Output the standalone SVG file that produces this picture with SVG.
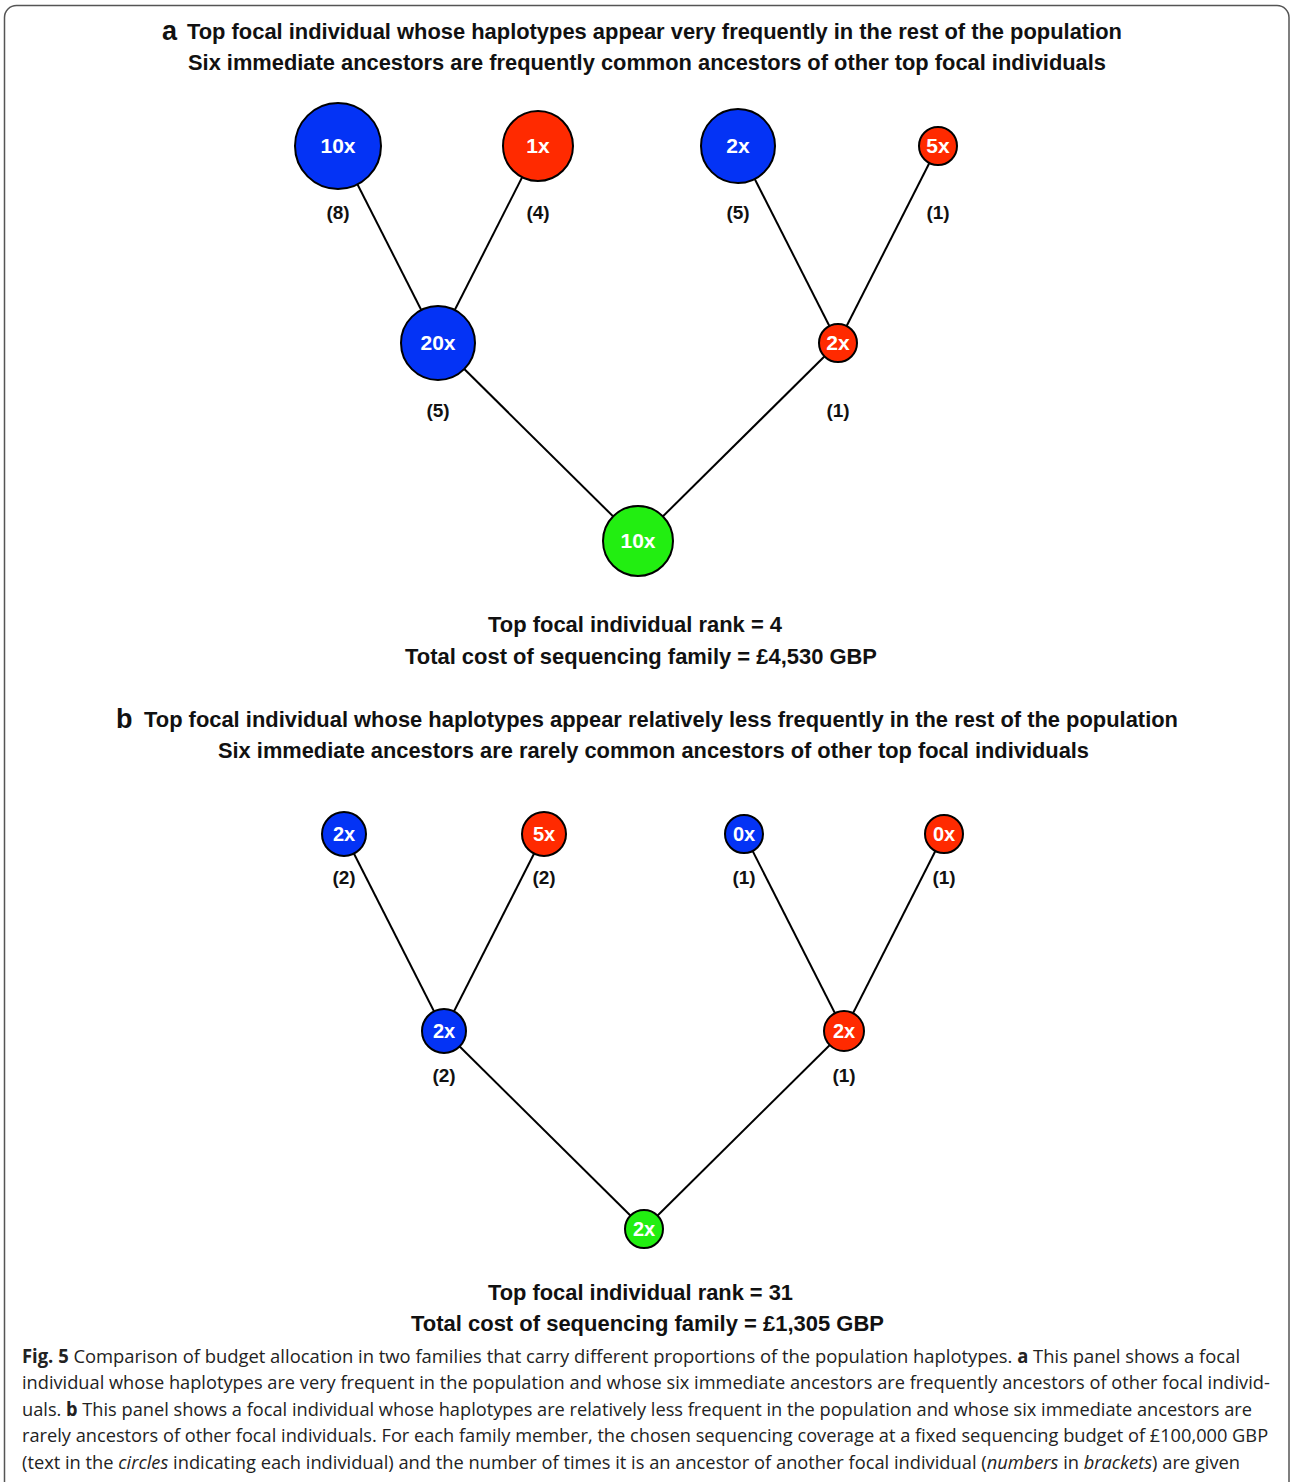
<svg xmlns="http://www.w3.org/2000/svg" width="1290" height="1482" viewBox="0 0 1290 1482">
<style>
.t{font-family:"Liberation Sans",Arial,sans-serif;font-weight:bold;font-size:21.5px;fill:#111}
.pl{font-family:"Liberation Sans",Arial,sans-serif;font-weight:bold;font-size:27px;fill:#111}
.n{font-family:"Liberation Sans",Arial,sans-serif;font-weight:bold;font-size:21px;fill:#fff;text-anchor:middle}
.ns{font-family:"Liberation Sans",Arial,sans-serif;font-weight:bold;font-size:20px;fill:#fff;text-anchor:middle}
.lb{font-family:"Liberation Sans",Arial,sans-serif;font-weight:bold;font-size:19px;fill:#111;text-anchor:middle}
.blue{fill:#0433f5;stroke:#000;stroke-width:2}
.red{fill:#ff2a00;stroke:#000;stroke-width:2}
.green{fill:#22ee11;stroke:#000;stroke-width:2}
.e{stroke:#000;stroke-width:2;fill:none}
.c{font-family:"Open Sans","Noto Sans",sans-serif;font-size:19px;fill:#222}
</style>
<rect width="1290" height="1482" fill="#fff"/>
<path d="M4.5 1490 V17.5 A12 12 0 0 1 16.5 5.5 H1277 A12 12 0 0 1 1289 17.5 V1490" fill="none" stroke="#555" stroke-width="1.5"/>

<text class="pl" x="162" y="40">a</text>
<text class="t" x="187" y="39" textLength="935" lengthAdjust="spacingAndGlyphs">Top focal individual whose haplotypes appear very frequently in the rest of the population</text>
<text class="t" x="188" y="70" textLength="918" lengthAdjust="spacingAndGlyphs">Six immediate ancestors are frequently common ancestors of other top focal individuals</text>

<g id="connectors">
<line class="e" x1="338" y1="146" x2="438" y2="343"/>
<line class="e" x1="538" y1="146" x2="438" y2="343"/>
<line class="e" x1="738" y1="146" x2="838" y2="343"/>
<line class="e" x1="938" y1="146" x2="838" y2="343"/>
<line class="e" x1="438" y1="343" x2="638" y2="541"/>
<line class="e" x1="838" y1="343" x2="638" y2="541"/>
<line class="e" x1="344" y1="834" x2="444" y2="1031"/>
<line class="e" x1="544" y1="834" x2="444" y2="1031"/>
<line class="e" x1="744" y1="834" x2="844" y2="1031"/>
<line class="e" x1="944" y1="834" x2="844" y2="1031"/>
<line class="e" x1="444" y1="1031" x2="644" y2="1229"/>
<line class="e" x1="844" y1="1031" x2="644" y2="1229"/>
</g>

<g id="a_n1"><circle class="blue" cx="338" cy="146" r="43"/><text class="n" x="338" y="153">10x</text><text class="lb" x="338" y="219">(8)</text></g>
<g id="a_n2"><circle class="red" cx="538" cy="146" r="35"/><text class="n" x="538" y="153">1x</text><text class="lb" x="538" y="219">(4)</text></g>
<g id="a_n3"><circle class="blue" cx="738" cy="146" r="37"/><text class="n" x="738" y="153">2x</text><text class="lb" x="738" y="219">(5)</text></g>
<g id="a_n4"><circle class="red" cx="938" cy="146" r="19"/><text class="n" x="938" y="153">5x</text><text class="lb" x="938" y="219">(1)</text></g>
<g id="a_n5"><circle class="blue" cx="438" cy="343" r="37"/><text class="n" x="438" y="350">20x</text><text class="lb" x="438" y="417">(5)</text></g>
<g id="a_n6"><circle class="red" cx="838" cy="343" r="19"/><text class="n" x="838" y="350">2x</text><text class="lb" x="838" y="417">(1)</text></g>
<g id="a_n7"><circle class="green" cx="638" cy="541" r="35"/><text class="n" x="638" y="548">10x</text></g>

<text class="t" x="488" y="632" textLength="294" lengthAdjust="spacingAndGlyphs">Top focal individual rank = 4</text>
<text class="t" x="405" y="664" textLength="472" lengthAdjust="spacingAndGlyphs">Total cost of sequencing family = £4,530 GBP</text>

<text class="pl" x="116" y="728">b</text>
<text class="t" x="144" y="727" textLength="1034" lengthAdjust="spacingAndGlyphs">Top focal individual whose haplotypes appear relatively less frequently in the rest of the population</text>
<text class="t" x="218" y="758" textLength="871" lengthAdjust="spacingAndGlyphs">Six immediate ancestors are rarely common ancestors of other top focal individuals</text>

<g id="b_n1"><circle class="blue" cx="344" cy="834" r="22"/><text class="ns" x="344" y="841">2x</text><text class="lb" x="344" y="884">(2)</text></g>
<g id="b_n2"><circle class="red" cx="544" cy="834" r="22"/><text class="ns" x="544" y="841">5x</text><text class="lb" x="544" y="884">(2)</text></g>
<g id="b_n3"><circle class="blue" cx="744" cy="834" r="19"/><text class="ns" x="744" y="841">0x</text><text class="lb" x="744" y="884">(1)</text></g>
<g id="b_n4"><circle class="red" cx="944" cy="834" r="19"/><text class="ns" x="944" y="841">0x</text><text class="lb" x="944" y="884">(1)</text></g>
<g id="b_n5"><circle class="blue" cx="444" cy="1031" r="22"/><text class="ns" x="444" y="1038">2x</text><text class="lb" x="444" y="1082">(2)</text></g>
<g id="b_n6"><circle class="red" cx="844" cy="1031" r="20"/><text class="ns" x="844" y="1038">2x</text><text class="lb" x="844" y="1082">(1)</text></g>
<g id="b_n7"><circle class="green" cx="644" cy="1229" r="19"/><text class="ns" x="644" y="1236">2x</text></g>

<text class="t" x="488" y="1300" textLength="305" lengthAdjust="spacingAndGlyphs">Top focal individual rank = 31</text>
<text class="t" x="411" y="1331" textLength="473" lengthAdjust="spacingAndGlyphs">Total cost of sequencing family = £1,305 GBP</text>

<g transform="translate(22,0) scale(0.85,1)">
<text class="c" x="0" y="1363" textLength="1433" lengthAdjust="spacingAndGlyphs"><tspan font-weight="bold">Fig. 5</tspan>  Comparison of budget allocation in two families that carry different proportions of the population haplotypes. <tspan font-weight="bold">a</tspan> This panel shows a focal</text>
<text class="c" x="0" y="1389" textLength="1468" lengthAdjust="spacingAndGlyphs">individual whose haplotypes are very frequent in the population and whose six immediate ancestors are frequently ancestors of other focal individ-</text>
<text class="c" x="0" y="1416" textLength="1447" lengthAdjust="spacingAndGlyphs">uals. <tspan font-weight="bold">b</tspan>  This panel shows a focal individual whose haplotypes are relatively less frequent in the population and whose six immediate ancestors are</text>
<text class="c" x="0" y="1442" textLength="1466" lengthAdjust="spacingAndGlyphs">rarely ancestors of other focal individuals. For each family member, the chosen sequencing coverage at a fixed sequencing budget of £100,000 GBP</text>
<text class="c" x="0" y="1469" textLength="1433" lengthAdjust="spacingAndGlyphs">(text in the <tspan font-style="italic">circles</tspan> indicating each individual) and the number of times it is an ancestor of another focal individual (<tspan font-style="italic">numbers</tspan> in <tspan font-style="italic">brackets</tspan>) are given</text>
</g>
</svg>
